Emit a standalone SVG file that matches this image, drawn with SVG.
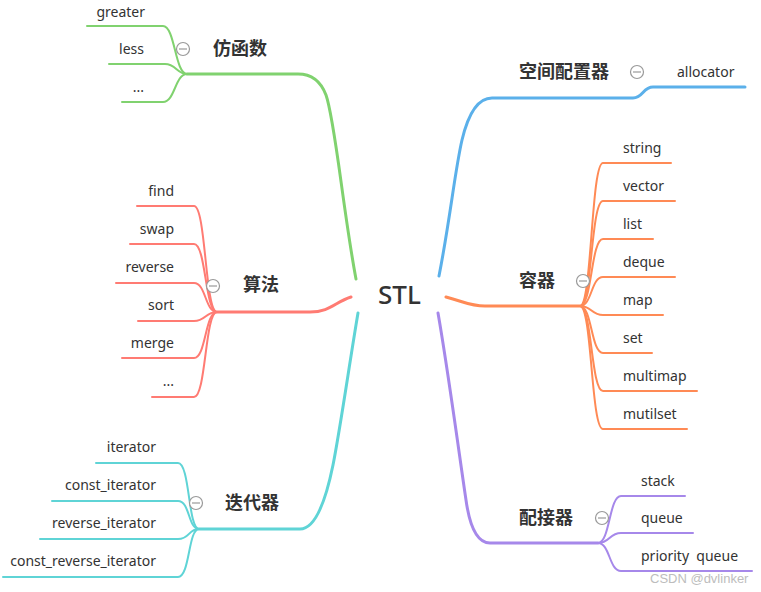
<svg xmlns="http://www.w3.org/2000/svg" width="761" height="592" viewBox="0 0 761 592">
<style>
.t{font-family:"Noto Sans","Open Sans","Liberation Sans",sans-serif;font-size:14px;fill:#333}
.h{font-family:"Noto Sans CJK SC","Noto Sans",sans-serif;font-size:18px;font-weight:bold;fill:#333}
.c{fill:none;stroke-linecap:round}
.m{stroke-width:3}
.s{stroke-width:2}
.g{stroke:#80D26F}.r{stroke:#FF7B73}.cy{stroke:#5FD4D6}.b{stroke:#5BB0EA}.o{stroke:#FF8A55}.p{stroke:#A688EA}
.k circle{fill:#fff;stroke:#999;stroke-width:1.2}
.k line{stroke:#999;stroke-width:1.2}
</style>
<rect width="761" height="592" fill="#fff"/>
<g id="connectors">
<path class="c m g" d="M356,279 C343,210 335,120 326,95 Q318,74 298,74 L187,74"/>
<path class="c s g" d="M187,74 C175,74 175,26 163,26 L87,26"/>
<path class="c s g" d="M187,74 C177,74 176,64 165,64 L109,64"/>
<path class="c s g" d="M187,74 C175,74 175,102 163,102 L122,102"/>

<path class="c m r" d="M351,297 C335,302 330,312 310,312 L217,312"/>
<path class="c s r" d="M217,312 C205,312 206,206 194,206 L137,206"/>
<path class="c s r" d="M217,312 C205,312 206,244 194,244 L130,244"/>
<path class="c s r" d="M217,312 C205,312 206,283 194,283 L116,283"/>
<path class="c s r" d="M217,312 C205,312 206,321 194,321 L138,321"/>
<path class="c s r" d="M217,312 C205,312 206,358 194,358 L122,358"/>
<path class="c s r" d="M217,312 C205,312 206,397 194,397 L152,397"/>

<path class="c m cy" d="M358,313 C350,360 340,430 333,465 Q320,529 300,529 L199,529"/>
<path class="c s cy" d="M199,529 C188,529 190,463 178,463 L96,463"/>
<path class="c s cy" d="M199,529 C188,529 190,501 178,501 L52,501"/>
<path class="c s cy" d="M199,529 C188,529 190,539 178,539 L40,539"/>
<path class="c s cy" d="M199,529 C188,529 190,577 178,577 L3,577"/>

<path class="c m b" d="M439,276 C450,220 455,170 462,140 Q472,98 492,98 L633,98 C643,98 643,87 653,87 L745,87"/>

<path class="c m o" d="M446,297 C465,302 470,306 485,306 L580,306"/>
<path class="c s o" d="M580,306 C592,306 591,163 603,163 L671,163"/>
<path class="c s o" d="M580,306 C592,306 591,201 603,201 L675,201"/>
<path class="c s o" d="M580,306 C592,306 591,239 603,239 L653,239"/>
<path class="c s o" d="M580,306 C592,306 591,277 603,277 L675,277"/>
<path class="c s o" d="M580,306 C592,306 591,315 603,315 L663,315"/>
<path class="c s o" d="M580,306 C592,306 591,353 603,353 L652,353"/>
<path class="c s o" d="M580,306 C592,306 591,391 603,391 L697,391"/>
<path class="c s o" d="M580,306 C592,306 591,429 603,429 L687,429"/>

<path class="c m p" d="M438,313 C448,370 460,460 466,500 Q472,543 490,543 L598,543"/>
<path class="c s p" d="M598,543 C610,543 609,496 621,496 L685,496"/>
<path class="c s p" d="M598,543 C610,543 609,533 621,533 L693,533"/>
<path class="c s p" d="M598,543 C610,543 609,571 621,571 L752,571"/>
</g>

<g id="center"><text x="378" y="304" style="font-family:'Noto Sans','Open Sans',sans-serif;font-size:26px;font-weight:500;fill:#333">STL</text></g>

<g id="n-fanghanshu">
<text class="h" x="213" y="55">仿函数</text>
<g class="k"><circle cx="183" cy="49" r="6.5"/><line x1="179" y1="49" x2="187" y2="49"/></g>
</g>
<g id="n-greater"><text class="t" x="145" y="17" text-anchor="end">greater</text></g>
<g id="n-less"><text class="t" x="144" y="54" text-anchor="end">less</text></g>
<g id="n-g-etc"><text class="t" x="144" y="92" text-anchor="end">...</text></g>

<g id="n-suanfa">
<text class="h" x="243" y="291">算法</text>
<g class="k"><circle cx="213" cy="286" r="6.5"/><line x1="209" y1="286" x2="217" y2="286"/></g>
</g>
<g id="n-find"><text class="t" x="174" y="196" text-anchor="end">find</text></g>
<g id="n-swap"><text class="t" x="174" y="234" text-anchor="end">swap</text></g>
<g id="n-reverse"><text class="t" x="174" y="272" text-anchor="end">reverse</text></g>
<g id="n-sort"><text class="t" x="174" y="310" text-anchor="end">sort</text></g>
<g id="n-merge"><text class="t" x="174" y="348" text-anchor="end">merge</text></g>
<g id="n-r-etc"><text class="t" x="174" y="386" text-anchor="end">...</text></g>

<g id="n-diedaiqi">
<text class="h" x="225" y="509">迭代器</text>
<g class="k"><circle cx="196" cy="503" r="6.5"/><line x1="192" y1="503" x2="200" y2="503"/></g>
</g>
<g id="n-iterator"><text class="t" x="156" y="452" text-anchor="end">iterator</text></g>
<g id="n-const-iterator"><text class="t" x="156" y="490" text-anchor="end">const_iterator</text></g>
<g id="n-reverse-iterator"><text class="t" x="156" y="528" text-anchor="end">reverse_iterator</text></g>
<g id="n-const-reverse-iterator"><text class="t" x="156" y="566" text-anchor="end">const_reverse_iterator</text></g>

<g id="n-kongjianpeizhiqi">
<text class="h" x="519" y="78">空间配置器</text>
<g class="k"><circle cx="637" cy="72" r="6.5"/><line x1="633" y1="72" x2="641" y2="72"/></g>
</g>
<g id="n-allocator"><text class="t" x="677" y="77">allocator</text></g>

<g id="n-rongqi">
<text class="h" x="519" y="287">容器</text>
<g class="k"><circle cx="583" cy="281" r="6.5"/><line x1="579" y1="281" x2="587" y2="281"/></g>
</g>
<g id="n-string"><text class="t" x="623" y="153">string</text></g>
<g id="n-vector"><text class="t" x="623" y="191">vector</text></g>
<g id="n-list"><text class="t" x="623" y="229">list</text></g>
<g id="n-deque"><text class="t" x="623" y="267">deque</text></g>
<g id="n-map"><text class="t" x="623" y="305">map</text></g>
<g id="n-set"><text class="t" x="623" y="343">set</text></g>
<g id="n-multimap"><text class="t" x="623" y="381">multimap</text></g>
<g id="n-mutilset"><text class="t" x="623" y="419">mutilset</text></g>

<g id="n-peijieqi">
<text class="h" x="519" y="524">配接器</text>
<g class="k"><circle cx="602" cy="518" r="6.5"/><line x1="598" y1="518" x2="606" y2="518"/></g>
</g>
<g id="n-stack"><text class="t" x="641" y="486">stack</text></g>
<g id="n-queue"><text class="t" x="641" y="523">queue</text></g>
<g id="n-priority-queue"><text class="t" x="641" y="561" xml:space="preserve">priority  queue</text></g>

<text x="650" y="583" style="font-family:'Liberation Sans',sans-serif;font-size:13px;fill:#bdbdbd">CSDN @dvlinker</text>
</svg>
